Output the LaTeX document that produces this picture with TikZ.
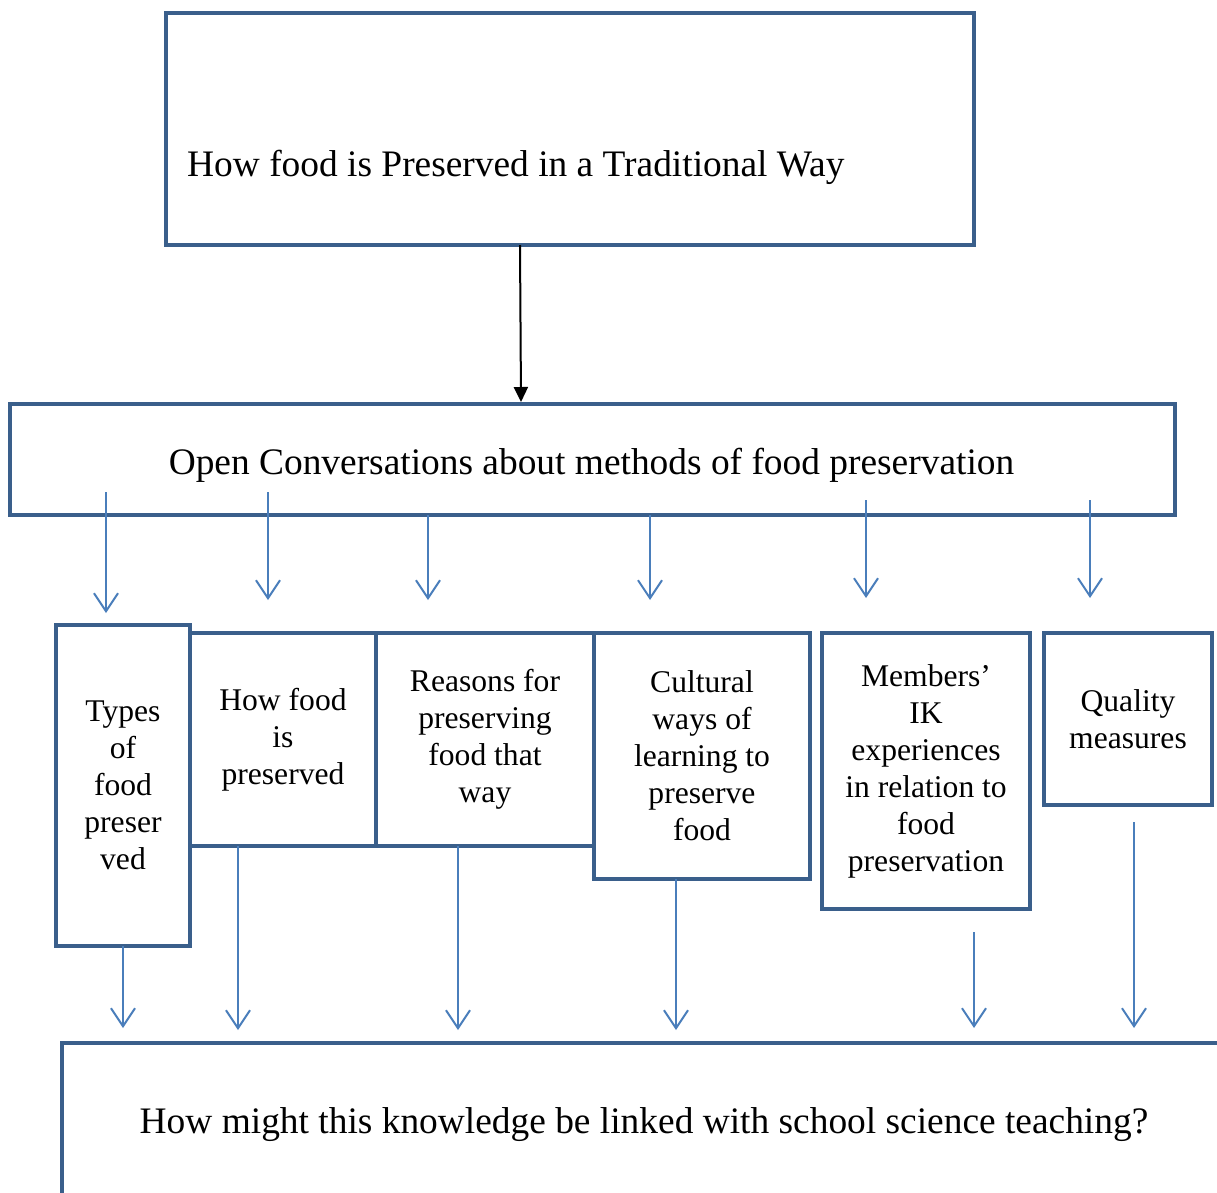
\documentclass[tikz,border=0pt]{standalone}
\usepackage{fontspec}
\setmainfont{Liberation Serif}
\usetikzlibrary{arrows.meta,calc}
\definecolor{boxblue}{HTML}{3A5F8B}
\definecolor{arrowblue}{HTML}{4A7EBB}
\begin{document}
\begin{tikzpicture}[x=1pt,y=-1pt,
  box/.style={draw=boxblue, line width=4pt, inner sep=0pt, outer sep=0pt,
    align=center, font=\fontsize{31.6}{37}\selectfont},
  bigtxt/.style={inner sep=0pt, font=\fontsize{37.4}{43}\selectfont},
  link/.style={draw=arrowblue, line width=2pt,
    -{Straight Barb[length=18pt,width=24pt]}},
  mainlink/.style={draw=black, line width=2pt,
    -{Triangle[length=15pt,width=14pt]}}]
\useasboundingbox (0,0) rectangle (1217,1192);

% title box and its text
\node[box, minimum width=808pt, minimum height=232pt] (title) at (570,129) {};
\node[bigtxt, anchor=base west] (titletext) at (187,176)
  {How food is Preserved in a Traditional Way};

% conversation box
\node[box, minimum width=1165pt, minimum height=111pt] (conv) at (592.5,459.5) {};
\node[bigtxt, anchor=base] (convtext) at (591.5,474)
  {Open Conversations about methods of food preservation};

% row of themes
\node[box, minimum width=134pt, minimum height=321pt] (types) at (123,785.5)
  {Types\\of\\food\\preser\\ved};
\node[box, minimum width=186pt, minimum height=213pt] (how) at (283,739.5)
  {How food\\is\\preserved};
\node[box, minimum width=218pt, minimum height=213pt] (reasons) at (485,739.5)
  {Reasons for\\preserving\\food that\\way};
\node[box, minimum width=216pt, minimum height=246pt] (cultural) at (702,756)
  {Cultural\\ways of\\learning to\\preserve\\food};
\node[box, minimum width=208pt, minimum height=276pt] (members) at (926,771)
  {Members’\\IK\\experiences\\in relation to\\food\\preservation};
\node[box, minimum width=168pt, minimum height=172pt] (quality) at (1128,719)
  {Quality\\measures};

% closing question box, running past the page edge
\node[box, anchor=north west, minimum width=1220pt, minimum height=220pt]
  (result) at (62,1043) {};
\node[bigtxt, anchor=base] (resulttext) at (644,1133)
  {How might this knowledge be linked with school science teaching?};

% title to conversation
\draw[mainlink] ($(title.south west)+(354,0)$) -- ($(conv.north west)+(511,-2)$);

% conversation to themes
\draw[link] ($(conv.south west)+(96,-23)$)   -- ($(types.north)+(-17,-12)$);
\draw[link] ($(conv.south west)+(258,-23)$)  -- ($(how.north)+(-15,-33)$);
\draw[link] ($(conv.south west)+(418,0)$)    -- ($(reasons.north)+(-57,-33)$);
\draw[link] ($(conv.south west)+(640,0)$)    -- ($(cultural.north)+(-52,-33)$);
\draw[link] ($(conv.south west)+(856,-15)$)  -- ($(members.north)+(-60,-35)$);
\draw[link] ($(conv.south west)+(1080,-15)$) -- ($(quality.north)+(-38,-35)$);

% themes to closing question
\draw[link] (types.south)                     -- ($(result.north west)+(61,-15)$);
\draw[link] ($(how.south west)+(48,0)$)       -- ($(result.north west)+(176,-13)$);
\draw[link] ($(reasons.south west)+(82,0)$)   -- ($(result.north west)+(396,-13)$);
\draw[link] ($(cultural.south west)+(82,0)$)  -- ($(result.north west)+(614,-13)$);
\draw[link] ($(members.south west)+(152,23)$) -- ($(result.north west)+(912,-15)$);
\draw[link] ($(quality.south west)+(90,17)$)  -- ($(result.north west)+(1072,-15)$);
\end{tikzpicture}
\end{document}
